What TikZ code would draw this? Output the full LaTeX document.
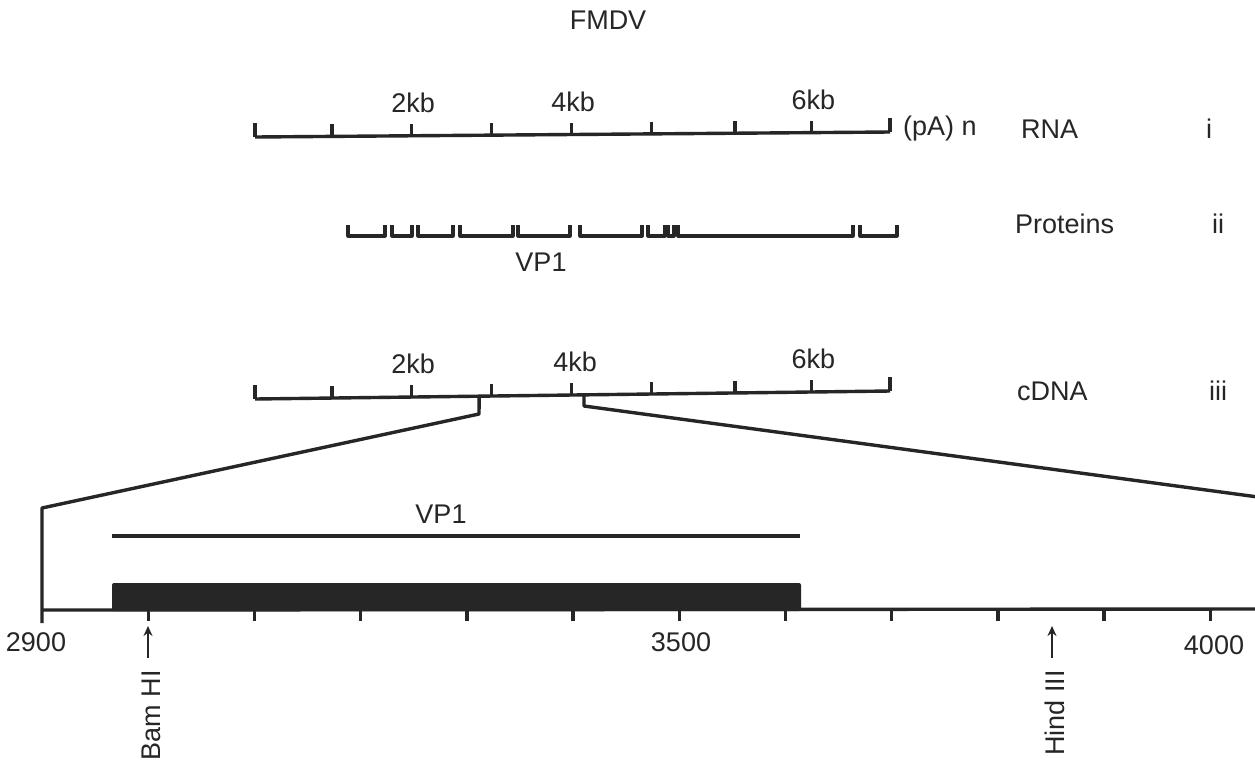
\documentclass[tikz,border=0pt]{standalone}
\usepackage{fontspec}
\setmainfont{Liberation Sans}
\usetikzlibrary{calc,arrows.meta}
\begin{document}
\begin{tikzpicture}[x=1pt,y=-1pt,
  ink/.style={draw=black!85, line width=3.4pt, line join=round},
  lbl/.style={font=\fontsize{27}{30}\selectfont, inner sep=0pt, text=black!85},
  bracketline/.style={ink, line width=3.2pt},
  arrowline/.style={draw=black!85, line width=2.6pt, -{Stealth[length=10pt,width=9pt]}}]
\useasboundingbox (0,0) rectangle (1255,764);
\fill[white] (0,0) rectangle (1255,764);

% title
\node[lbl] (fmdv) at (608,20) {FMDV};

% ---------- RNA ----------
\coordinate (rL) at (255,137);
\coordinate (rR) at (890,132);
\draw[ink] (rL) -- (rR);
\draw[ink] (rL) -- ++(0,-14);
\draw[ink] (rR) -- ++(0,-14);
\foreach \t in {0.121,0.246,0.372,0.498,0.624,0.756,0.876}
  \draw[ink] ($(rL)!\t!(rR)$) -- ++(0,-12);
\node[lbl] (r2) at ($(rL)!0.246!(rR)+(2,-33)$) {2kb};
\node[lbl] (r4) at ($(rL)!0.498!(rR)+(2,-33)$) {4kb};
\node[lbl] (r6) at ($(rL)!0.876!(rR)+(2,-33)$) {6kb};
\node[lbl, anchor=west] (pa) at (903,129) {(pA) n};
\node[lbl, anchor=west] (rna) at (1021,129) {RNA};
\node[lbl] (ri) at (1209,129) {i};

% ---------- Proteins ----------
\foreach \a/\b in {348/385,392/412,418/453,460/513,518/570,580/642,648/665,668/674,678/853,860/897}
  \draw[bracketline] (\a,225) -- (\a,236) -- (\b,236) -- (\b,225);
\node[lbl] (vp1a) at (541,262) {VP1};
\node[lbl, anchor=west] (prot) at (1015,224) {Proteins};
\node[lbl] (pii) at (1218,224) {ii};

% ---------- cDNA ----------
\coordinate (cL) at (255,399);
\coordinate (cR) at (890,391);
\draw[ink] (cL) -- (cR);
\draw[ink] (cL) -- ++(0,-14);
\draw[ink] (cR) -- ++(0,-14);
\foreach \t in {0.121,0.246,0.372,0.498,0.624,0.756,0.876}
  \draw[ink] ($(cL)!\t!(cR)$) -- ++(0,-12);
\node[lbl] (c2) at ($(cL)!0.246!(cR)+(2,-33)$) {2kb};
\node[lbl] (c4) at ($(cL)!0.498!(cR)+(4,-33)$) {4kb};
\node[lbl] (c6) at ($(cL)!0.876!(cR)+(2,-33)$) {6kb};
\node[lbl, anchor=west] (cdna) at (1017,391) {cDNA};
\node[lbl] (ciii) at (1218,391) {iii};

% expansion lines
\coordinate (dL) at ($(cL)!0.353!(cR)$);
\coordinate (dR) at ($(cL)!0.518!(cR)$);
\coordinate (dLb) at (479,414);
\coordinate (dRb) at (584,406);
\coordinate (corner) at (42,508);
\coordinate (farR) at (1258,497);
\draw[ink] (dL) -- (dLb) -- (corner) -- (42,623);
\draw[ink] (dR) -- (dRb) -- (farR);

% ---------- bottom map ----------
\draw[ink] (42,610) -- (1258,609);
\foreach \i in {1,...,11}
  \draw[ink] ({42+106.2*\i},610) -- ++(0,11);
\fill[black!85, rounded corners=2pt] (112,611) -- (112,583) -- (801,583) -- (801,611) -- cycle;
\draw[ink] (112,536) -- (800,536);
\node[lbl] (vp1b) at (441,514) {VP1};
\node[lbl] (n2900) at (36,642) {2900};
\node[lbl] (n3500) at (681,642) {3500};
\node[lbl] (n4000) at (1214,645) {4000};

% restriction sites
\coordinate (bamB) at (148,658);
\coordinate (bamT) at (148,626);
\draw[arrowline] (bamB) -- (bamT);
\node[lbl, rotate=90, anchor=east] (bam) at (151,670) {Bam HI};
\coordinate (hinB) at (1052,658);
\coordinate (hinT) at (1052,626);
\draw[arrowline] (hinB) -- (hinT);
\node[lbl, rotate=90, anchor=east] (hind) at (1055,670) {Hind III};
\end{tikzpicture}
\end{document}
